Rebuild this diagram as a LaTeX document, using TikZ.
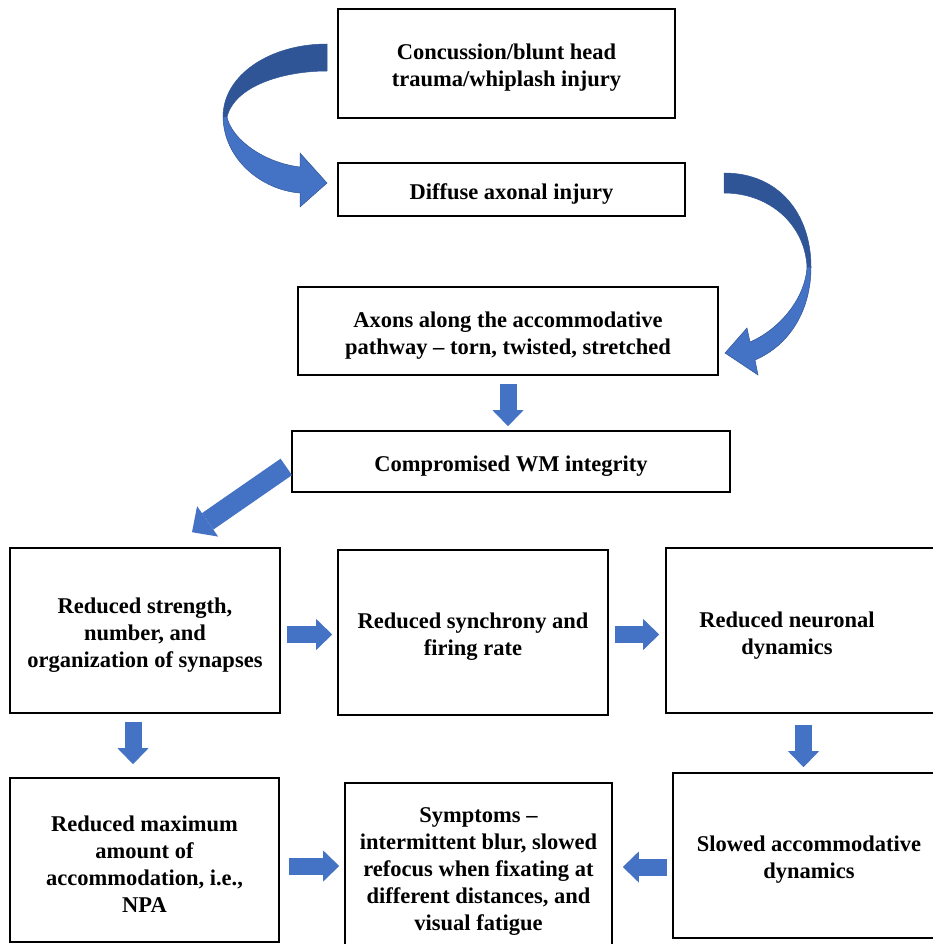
\documentclass[tikz,border=0pt]{standalone}
\usepackage{fontspec}
\setmainfont{Liberation Serif}
\usetikzlibrary{arrows.meta, positioning, calc}
\definecolor{flowblue}{HTML}{4472C4}
\definecolor{flowdark}{HTML}{2F5597}
% taller first line, so the text sits as low in its box as in the reference
\newcommand{\firstln}{\rule{0pt}{24.5pt}}
\tikzset{
    box/.style={draw=black, line width=1.6pt, fill=white, align=center, inner sep=0pt,
                font=\fontsize{22.5}{27}\selectfont\bfseries},
    boxtext/.style={align=center, inner sep=0pt, font=\fontsize{22.5}{27}\selectfont\bfseries},
    blockarr/.style={draw=flowblue, line width=17pt,
                     -{Triangle[length=16pt, width=31pt, line width=0pt]}},
    ribbon/.style={fill=flowblue, draw=flowdark, line width=0.5pt},
    ribbonback/.style={fill=flowdark, draw=flowdark, line width=0.5pt}
}

\begin{document}
\begin{tikzpicture}[x=1pt, y=-1pt]
    \useasboundingbox (0,0) rectangle (933,944);
    \clip (0,0) rectangle (933,944);
    % chain at the top
    \node[box, minimum width=337pt, minimum height=109pt] (injury) at (506.5,63.5)
        {\firstln Concussion/blunt head\\trauma/whiplash injury};
    \node[box, minimum width=347pt, minimum height=53pt] (dai) at (511.5,189.5)
        {\firstln Diffuse axonal injury};
    \node[box, minimum width=420pt, minimum height=88pt] (axons) at (508,331)
        {\firstln Axons along the accommodative\\pathway – torn, twisted, stretched};
    \node[box, minimum width=438pt, minimum height=61pt] (wm) at (511,461.5)
        {\firstln Compromised WM integrity};
    % middle row
    \node[box, minimum width=270pt, minimum height=165pt] (synapses) at (145,630.5)
        {\firstln Reduced strength,\\number, and\\organization of synapses};
    \node[box, minimum width=270pt, minimum height=165pt] (synchrony) at (473,632.5)
        {\firstln Reduced synchrony and\\firing rate};
    \node[box, minimum width=279pt, minimum height=165pt] (neuronal) at (805.5,630.5) {};
    \node[boxtext] (neurontext) at (787,631) {\firstln Reduced neuronal\\dynamics};
    % bottom row
    \node[box, minimum width=269pt, minimum height=164pt] (npa) at (144.5,860)
        {\firstln Reduced maximum\\amount of\\accommodation, i.e.,\\NPA};
    \node[box, minimum width=267pt, minimum height=167pt] (symptoms) at (478.5,866.5)
        {\firstln Symptoms –\\intermittent blur, slowed\\refocus when fixating at\\different distances, and\\visual fatigue};
    \node[box, minimum width=272pt, minimum height=165pt] (slowed) at (809,855.5)
        {\firstln Slowed accommodative\\dynamics};

    % curved arrow from injury to dai
    \path[ribbonback] (327,44) .. controls (270,44) and (223,75) .. (223,117)
        -- (227,117) .. controls (235,85) and (285,71) .. (327,71) -- cycle;
    \path[ribbon] (223,117) .. controls (224,160) and (262,190) .. (300,193)
        -- (300,207) -- (327,183) -- (300,153) -- (300,167)
        .. controls (265,163) and (232,140) .. (227,117) -- cycle;
    % curved arrow from dai to axons
    \path[ribbonback] (724,173) .. controls (780,173) and (811,215) .. (811,267)
        -- (807,267) .. controls (805,225) and (770,193) .. (724,193) -- cycle;
    \path[ribbon] (811,267) .. controls (811,310) and (790,345) .. (755,360)
        -- (758,375) -- (725,353) -- (747,328) -- (750,342)
        .. controls (778,330) and (805,300) .. (807,267) -- cycle;

    % block arrows
    \coordinate (diagtip) at ($(synapses.north)+(47,-15)$);
    \draw[blockarr, shorten <=8pt, shorten >=4pt] (axons.south) -- (axons.south |- wm.north);
    \draw[blockarr, line width=20pt, -{Triangle[length=19pt, width=37pt, line width=0pt]},
          shorten <=6pt] ([yshift=-2pt]wm.west) -- (diagtip);
    \draw[blockarr, shorten <=6pt, shorten >=5pt] ([yshift=-4pt]synapses.east) -- ([yshift=-4pt]synapses.east -| synchrony.west);
    \draw[blockarr, shorten <=6pt, shorten >=6pt] ([yshift=-2pt]synchrony.east) -- ([yshift=-2pt]synchrony.east -| neuronal.west);
    \draw[blockarr, shorten <=8pt, shorten >=13pt] ([xshift=-12pt]synapses.south) -- ([xshift=-12pt]synapses.south |- npa.north);
    \draw[blockarr, shorten <=11pt, shorten >=5pt] ([xshift=-2pt]neuronal.south) -- ([xshift=-2pt]neuronal.south |- slowed.north);
    \draw[blockarr, shorten <=9pt, shorten >=5pt] ([yshift=-6pt]npa.east) -- ([yshift=-6pt]npa.east -| symptoms.west);
    \draw[blockarr, shorten <=5pt, shorten >=10pt] ([yshift=-11.5pt]slowed.west) -- ([yshift=-11.5pt]slowed.west -| symptoms.east);
\end{tikzpicture}
\end{document}
